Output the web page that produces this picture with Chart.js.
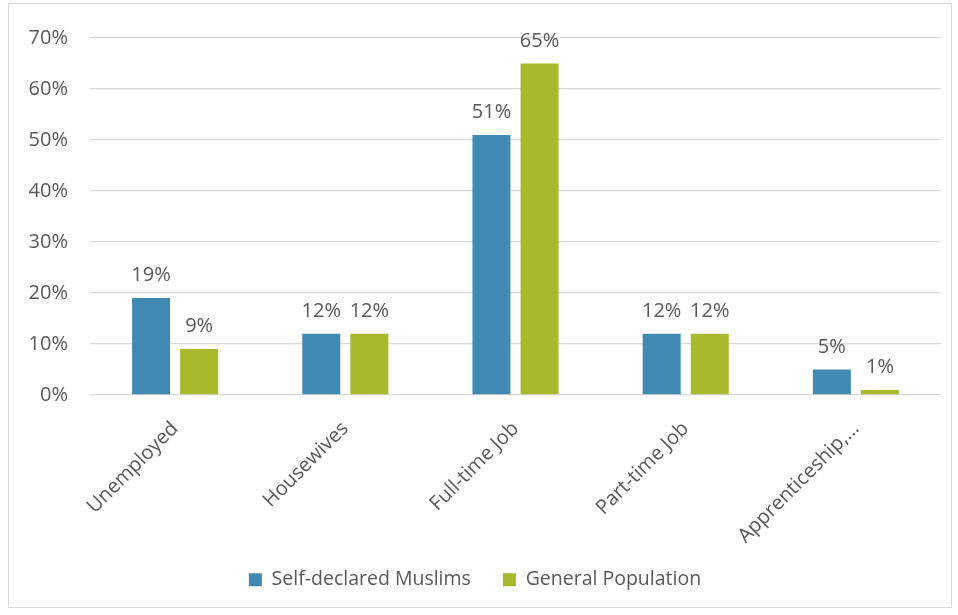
<!DOCTYPE html>
<html>
<head>
<meta charset="utf-8">
<script src="https://cdn.jsdelivr.net/npm/chart.js@4.4.1/dist/chart.umd.min.js"></script>
<style>
  html, body { margin: 0; padding: 0; background: #fff; }
  #frame {
    position: absolute; left: 8px; top: 3px;
    width: 942px; height: 603px;
    border: 1px solid #d9d9d9;
  }
  canvas { display: block; }
</style>
</head>
<body>
<div id="frame"><canvas id="chart" width="942" height="603"></canvas></div>
<script>
const categories = ['Unemployed', 'Housewives', 'Full-time Job', 'Part-time Job', 'Apprenticeship,\u2026'];
const muslims = [19, 12, 51, 12, 5];
const generalPop = [9, 12, 65, 12, 1];
const yTicks = [0, 10, 20, 30, 40, 50, 60, 70];

const textColor = '#595959';
const gridColor = '#d9d9d9';
const fontFamily = '"Open Sans", "Noto Sans", sans-serif';

// value labels above each bar
const barValues = {
  id: 'barValues',
  afterDatasetsDraw(chart) {
    const ctx = chart.ctx;
    ctx.save();
    ctx.fillStyle = textColor;
    ctx.font = `20px ${fontFamily}`;
    ctx.textAlign = 'center';
    ctx.textBaseline = 'alphabetic';
    chart.data.datasets.forEach((ds, i) => {
      chart.getDatasetMeta(i).data.forEach((bar, j) => {
        ctx.fillText(ds.data[j] + '%', bar.x, bar.y - 17);
      });
    });
    ctx.restore();
  }
};

// keep the legend compact and nudge it up, while labels.padding keeps the wide gap between items
const legendPlacement = {
  id: 'legendPlacement',
  beforeInit(chart) {
    const fit = chart.legend.fit;
    chart.legend.fit = function () {
      fit.call(this);
      this.height = 61;
    };
  },
  afterLayout(chart) {
    chart.legend.top -= 8;
    chart.legend.bottom -= 8;
  }
};

new Chart(document.getElementById('chart').getContext('2d'), {
  type: 'bar',
  data: {
    labels: categories,
    datasets: [
      {
        label: 'Self-declared Muslims',
        data: muslims,
        backgroundColor: '#4089b3',
        categoryPercentage: 0.565,
        barPercentage: 0.79
      },
      {
        label: 'General Population',
        data: generalPop,
        backgroundColor: '#a8b92b',
        categoryPercentage: 0.565,
        barPercentage: 0.79
      }
    ]
  },
  options: {
    responsive: false,
    animation: false,
    layout: { autoPadding: false, padding: { top: 17, right: 10, left: 0, bottom: 0 } },
    plugins: {
      tooltip: { enabled: false },
      legend: {
        position: 'bottom',
        labels: {
          color: textColor,
          font: { family: fontFamily, size: 19.5 },
          boxWidth: 13,
          boxHeight: 13,
          padding: 32
        }
      }
    },
    scales: {
      x: {
        grid: { display: false },
        border: { display: false },
        ticks: {
          color: textColor,
          font: { family: fontFamily, size: 20 },
          minRotation: 45,
          maxRotation: 45,
          padding: 14
        },
        afterFit(scale) { scale.height = 151; }
      },
      y: {
        min: 0,
        max: 70,
        afterBuildTicks(scale) { scale.ticks = yTicks.map(v => ({ value: v })); },
        grid: { color: gridColor, lineWidth: 1.3, drawTicks: false },
        border: { display: false },
        ticks: {
          color: textColor,
          font: { family: fontFamily, size: 20 },
          padding: 22,
          callback: v => v + '%'
        },
        afterFit(scale) { scale.width = 81; }
      }
    }
  },
  plugins: [barValues, legendPlacement]
});
</script>
</body>
</html>
